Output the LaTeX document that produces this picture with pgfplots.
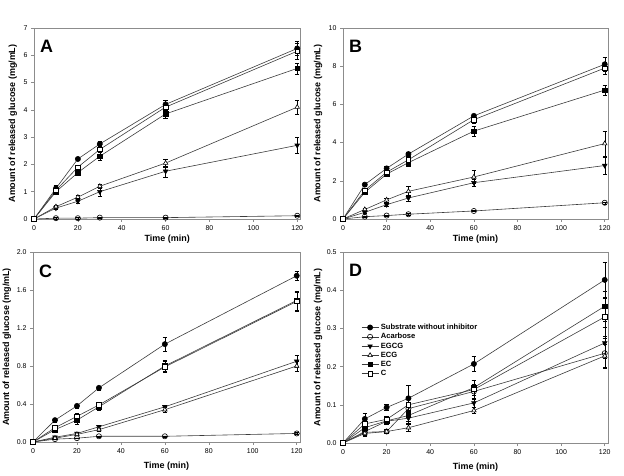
\documentclass[border=0pt]{standalone}
\usepackage{fontspec}
\setmainfont{Liberation Sans}
\usepackage{pgfplots}
\usepackage{pgfplotstable}
\pgfplotsset{compat=1.18}

% t  substrate  acarbose  EGCG  ECG  EC  C  (value, error)
\pgfplotstableread{
t   s     se    a     ae    g     ge    cg    cge   ec    ece   c     ce
0   0     0     0     0     0     0     0     0     0     0     0     0
10  1.12  0.12  0.03  0.02  0.40  0.05  0.45  0.05  1.00  0.08  1.05  0.08
20  2.20  0.06  0.03  0.02  0.65  0.08  0.80  0.06  1.70  0.06  1.90  0.08
30  2.75  0.10  0.05  0.02  1.00  0.15  1.20  0.08  2.30  0.15  2.55  0.10
60  4.20  0.15  0.05  0.02  1.75  0.20  2.05  0.15  3.85  0.15  4.10  0.12
120 6.25  0.25  0.12  0.03  2.70  0.30  4.10  0.25  5.52  0.20  6.15  0.30
}\tA
\pgfplotstableread{
t   s     se    a     ae    g     ge    cg    cge   ec    ece   c     ce
0   0     0     0     0     0     0     0     0     0     0     0     0
10  1.80  0.10  0.12  0.02  0.35  0.05  0.50  0.06  1.40  0.08  1.50  0.08
20  2.65  0.10  0.18  0.02  0.75  0.08  1.00  0.10  2.35  0.10  2.45  0.10
30  3.40  0.10  0.25  0.03  1.10  0.15  1.45  0.25  2.95  0.20  3.10  0.10
60  5.40  0.10  0.42  0.03  1.90  0.20  2.20  0.35  4.60  0.25  5.20  0.20
120 8.10  0.35  0.85  0.05  2.80  0.45  3.95  0.65  6.75  0.25  7.90  0.30
}\tB
\pgfplotstableread{
t   s     se    a     ae    g     ge    cg    cge   ec    ece   c     ce
0   0     0     0     0     0     0     0     0     0     0     0     0
10  0.23  0.02  0.03  0.005 0.05  0.01  0.04  0.01  0.13  0.02  0.15  0.02
20  0.38  0.02  0.04  0.005 0.09  0.01  0.08  0.01  0.23  0.04  0.27  0.03
30  0.57  0.02  0.06  0.005 0.16  0.02  0.13  0.02  0.37  0.04  0.39  0.03
60  1.03  0.07  0.06  0.005 0.37  0.02  0.34  0.03  0.80  0.06  0.79  0.06
120 1.75  0.05  0.09  0.01  0.85  0.06  0.80  0.05  1.49  0.10  1.48  0.10
}\tC
\pgfplotstableread{
t   s     se    a     ae    g     ge    cg    cge   ec    ece   c     ce
0   0     0     0     0     0     0     0     0     0     0     0     0
10  0.063 0.015 0.028 0.008 0.030 0.008 0.025 0.008 0.040 0.010 0.050 0.010
20  0.093 0.008 0.030 0.005 0.057 0.008 0.030 0.005 0.058 0.008 0.062 0.008
30  0.117 0.035 0.090 0.015 0.065 0.012 0.040 0.008 0.072 0.015 0.100 0.020
60  0.207 0.020 0.135 0.020 0.105 0.012 0.085 0.008 0.145 0.020 0.140 0.025
120 0.427 0.045 0.235 0.040 0.262 0.040 0.228 0.030 0.358 0.040 0.330 0.050
}\tD

\definecolor{axgray}{HTML}{8C8C8C}
\definecolor{lngray}{HTML}{3C3C3C}

\pgfplotsset{
  panel/.style={
    scale only axis, width=266bp, height=191bp,
    xmin=0, xmax=121.5, ymin=0,
    xtick={0,20,...,120},
    axis line style={axgray, line width=0.7bp},
    tick style={axgray, line width=0.5bp},
    tick align=outside, major tick length=3bp,
    xtick pos=bottom, ytick pos=left,
    tick label style={font=\fontsize{7}{8}\selectfont},
    /pgf/number format/assume math mode=true,
    xlabel={Time (min)}, ylabel={Amount of released glucose (mg/mL)},
    label style={font=\fontsize{9}{10}\selectfont\bfseries},
    clip=false,
  },
  ser/.style={lngray, solid, line width=0.6bp, mark size=2.6bp,
    /pgfplots/error bars/y dir=both,
    /pgfplots/error bars/y explicit,
    /pgfplots/error bars/error bar style={black, solid, line width=0.4bp},
    /pgfplots/error bars/error mark options={black, solid, mark size=2.2bp, line width=0.4bp, rotate=90}},
}
\tikzset{plet/.style={font=\fontsize{18}{18}\selectfont\bfseries, anchor=north west, inner sep=0pt}}

\newcommand{\allseries}[1]{%
  \addplot+[ser, mark=*, mark options={fill=black, draw=black, solid}] table[x=t, y=s, y error=se] {#1};
  \addplot+[ser, mark=o, mark options={fill=white, draw=black, solid}] table[x=t, y=a, y error=ae] {#1};
  \addplot+[ser, mark=triangle*, mark options={fill=black, draw=black, rotate=180, solid}] table[x=t, y=g, y error=ge] {#1};
  \addplot+[ser, mark=triangle*, mark options={fill=white, draw=black, solid}] table[x=t, y=cg, y error=cge] {#1};
  \addplot+[ser, mark=square*, mark options={fill=black, draw=black, solid, scale=0.85}] table[x=t, y=ec, y error=ece] {#1};
  \addplot+[ser, mark=square*, mark options={fill=white, draw=black, solid, scale=0.85}] table[x=t, y=c, y error=ce] {#1};
}

\begin{document}
\begin{tikzpicture}[x=1bp,y=1bp]
\path[use as bounding box] (0,0) rectangle (624bp,476bp);

% Panel A
\begin{axis}[panel, at={(34bp,257bp)}, anchor=south west, width=266.5bp, height=191bp,
  ymax=7, ytick={0,1,...,7},
  ylabel style={at={(axis description cs:-0.079,0.5)}, anchor=center},
  xlabel style={at={(axis description cs:0.5,-0.105)}, anchor=center}]
\allseries{\tA}
\node[plet] at (rel axis cs:0.022,0.935) {A};
\end{axis}

% Panel B
\begin{axis}[panel, at={(343bp,257bp)}, anchor=south west, width=265bp, height=191bp,
  ymax=10, ytick={0,2,...,10},
  ylabel style={at={(axis description cs:-0.094,0.5)}, anchor=center},
  xlabel style={at={(axis description cs:0.5,-0.105)}, anchor=center}]
\allseries{\tB}
\node[plet] at (rel axis cs:0.022,0.935) {B};
\end{axis}

% Panel C
\begin{axis}[panel, at={(33bp,34bp)}, anchor=south west, width=267bp, height=190bp,
  ymax=2, ytick={0,0.4,...,2.0},
  yticklabel style={/pgf/number format/.cd, fixed, fixed zerofill, precision=1},
  ylabel style={at={(axis description cs:-0.098,0.5)}, anchor=center},
  xlabel style={at={(axis description cs:0.5,-0.126)}, anchor=center}]
\allseries{\tC}
\node[plet] at (rel axis cs:0.022,0.935) {C};
\end{axis}

% Panel D
\begin{axis}[panel, at={(343bp,33bp)}, anchor=south west, width=265bp, height=191bp,
  ymax=0.5, ytick={0,0.1,...,0.5},
  yticklabel style={/pgf/number format/.cd, fixed, fixed zerofill, precision=1},
  ylabel style={at={(axis description cs:-0.094,0.5)}, anchor=center},
  xlabel style={at={(axis description cs:0.5,-0.126)}, anchor=center},
  legend style={at={(rel axis cs:0.057,0.645)}, anchor=north west, draw=none, fill=none,
    font=\fontsize{7.6}{8}\selectfont\bfseries, row sep=-1.6bp, cells={anchor=west}},
  legend cell align=left]
\allseries{\tD}
\legend{Substrate without inhibitor, Acarbose, EGCG, ECG, EC, C}
\node[plet] at (rel axis cs:0.022,0.935) {D};
\end{axis}
\end{tikzpicture}
\end{document}
